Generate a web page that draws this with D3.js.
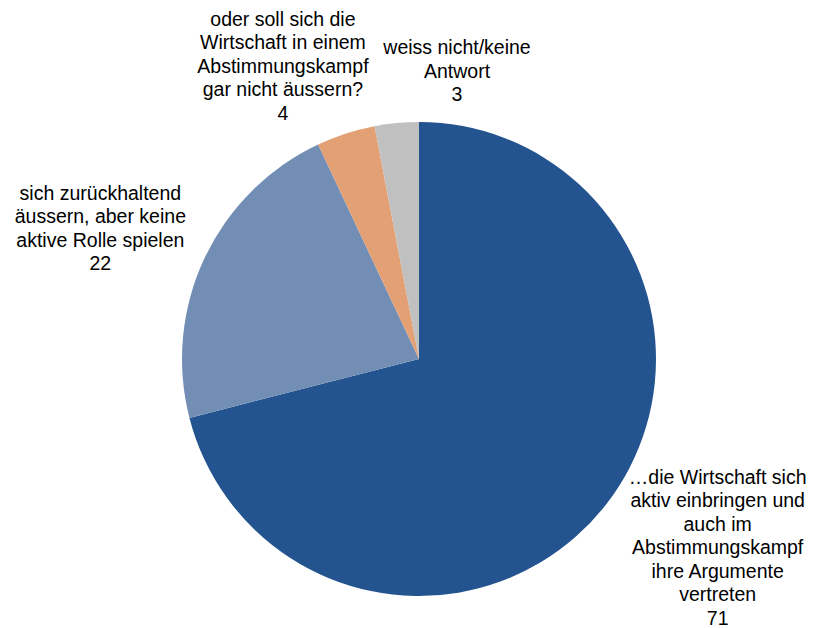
<!DOCTYPE html>
<html>
<head>
<meta charset="utf-8">
<script src="https://cdn.jsdelivr.net/npm/d3@7"></script>
<style>
  body { margin: 0; background: #fff; }
  text { font-family: "Liberation Sans", Arial, sans-serif; font-size: 19.5px; fill: #000; }
</style>
</head>
<body>
<svg></svg>
<script>
// antworten und werte (prozent)
var labels = [
  ["\u2026die Wirtschaft sich", "aktiv einbringen und", "auch im", "Abstimmungskampf", "ihre Argumente", "vertreten"],
  ["sich zur\u00fcckhaltend", "\u00e4ussern, aber keine", "aktive Rolle spielen"],
  ["oder soll sich die", "Wirtschaft in einem", "Abstimmungskampf", "gar nicht \u00e4ussern?"],
  ["weiss nicht/keine", "Antwort"]
];
var values = [71, 22, 4, 3];
var colors = ["#24548f", "#738eb4", "#e3a074", "#c0c0c0"];

var width = 814, height = 628;
var cx = 419, cy = 359, radius = 237;

// verschiebung der beschriftungen (wie im original von Hand gesetzt)
var nudge = [[30, -20], [-11, 14], [-31, 30], [70, 50]];

var svg = d3.select("svg").attr("width", width).attr("height", height);

var g = svg.append("g")
  .attr("transform", "translate(" + cx + "," + cy + ")");

var pie = d3.pie().sort(null).value(function (d) { return d; });
var arcs = pie(values);

var path = d3.arc().outerRadius(radius).innerRadius(0);

g.selectAll("path")
  .data(arcs)
  .enter()
  .append("path")
  .attr("d", path)
  .attr("fill", function (d, i) { return colors[i]; });

var labelArc = d3.arc().outerRadius(340).innerRadius(340);
var lineH = 23.5;

var lab = g.selectAll("text")
  .data(arcs)
  .enter()
  .append("text")
  .attr("text-anchor", "middle")
  .attr("transform", function (d, i) {
    var c = labelArc.centroid(d);
    return "translate(" + (c[0] + nudge[i][0]) + "," + (c[1] + nudge[i][1]) + ")";
  });

lab.each(function (d, i) {
  var lines = labels[i].concat([String(d.data)]);
  var y0 = -((lines.length - 1) * lineH) / 2 + 7;
  var t = d3.select(this);
  lines.forEach(function (l, k) {
    t.append("tspan").attr("x", 0).attr("y", y0 + k * lineH).text(l);
  });
});
</script>
</body>
</html>
